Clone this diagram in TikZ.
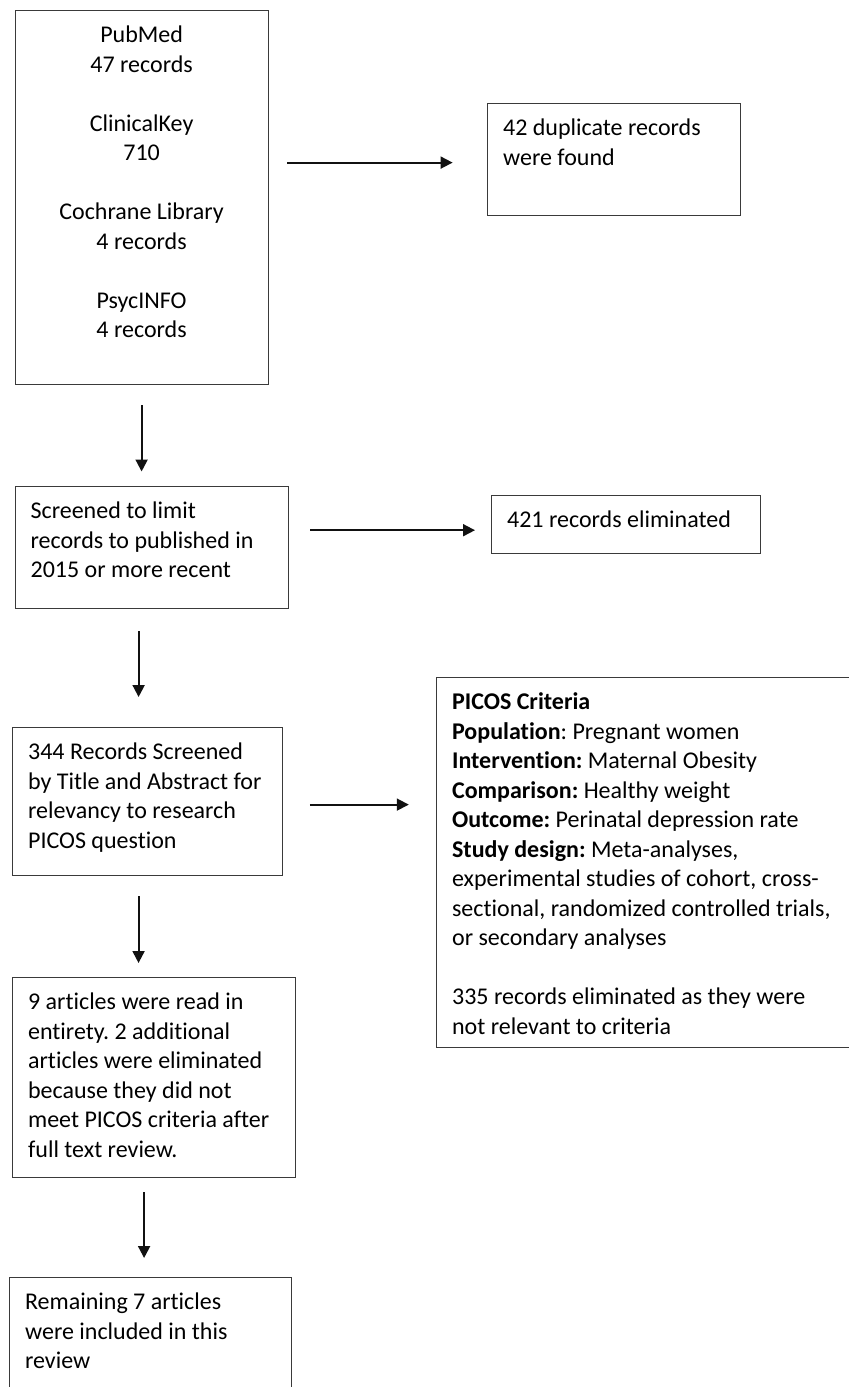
\documentclass[tikz,border=0pt]{standalone}
\usepackage{fontspec}
\setmainfont{Carlito}[Ligatures=NoCommon]
\usepackage{xcolor}
\definecolor{vienhop}{HTML}{3A3A3A}
\definecolor{muiden}{HTML}{111111}
\usetikzlibrary{arrows.meta,calc,positioning}
\frenchspacing
\newcommand{\hopchu}[4][\raggedright]{\parbox[t][#3][t]{#2}{#1\rule{0pt}{16pt}#4}}

\begin{document}
\begin{tikzpicture}[x=0.5pt,y=-0.5pt]
	\tikzset{
		hop/.style={draw=vienhop,line width=0.6pt,inner xsep=7.75pt,inner ysep=0pt,anchor=north west,font=\fontsize{12}{14.75}\selectfont},
		muiten/.style={draw=muiden,line width=1pt,-{Triangle[length=6pt,width=6pt]}},
		muitenngang/.style={muiten,line width=0.9pt}
	}
	\useasboundingbox (0,0) rectangle (849,1387);
	%% cot trai
	\node[hop] (nguon) at (14.5,10) {\hopchu[\centering]{111pt}{187pt}{PubMed\\47 records\\[14.75pt]ClinicalKey\\710\\[14.75pt]Cochrane Library\\4 records\\[14.75pt]PsycINFO\\4 records}};
	\node[hop] (loc) at (14.5,486) {\hopchu{121pt}{60.75pt}{Screened to limit\\records to published in\\2015 or more recent}};
	\node[hop] (tomtat) at (12,727) {\hopchu{119.25pt}{74pt}{344 Records Screened\\by Title and Abstract for\\relevancy to research\\PICOS question}};
	\node[hop] (doc) at (12,977) {\hopchu{126pt}{100pt}{9 articles were read in\\entirety. 2 additional\\articles were eliminated\\because they did not\\meet PICOS criteria after\\full text review.}};
	\node[hop] (ket) at (9,1277) {\hopchu{125.5pt}{59pt}{Remaining 7 articles\\were included in this\\review}};
	%% cot phai
	\node[hop] (trung) at (487,103) {\hopchu{111pt}{56pt}{42 duplicate records\\were found}};
	\node[hop] (loai) at (491,495) {\hopchu{119pt}{29pt}{421 records eliminated}};
	\node[hop] (picos) at (436,677) {\hopchu{192.5pt}{185pt}{\textbf{PICOS Criteria}\\\textbf{Population}: Pregnant women\\\textbf{Intervention:} Maternal Obesity\\\textbf{Comparison:} Healthy weight\\\textbf{Outcome:} Perinatal depression rate\\\textbf{Study design:} Meta-analyses,\\experimental studies of cohort, cross-\\sectional, randomized controlled trials,\\or secondary analyses\\[14.75pt]335 records eliminated as they were\\not relevant to criteria}};
	%% mui ten doc
	\foreach \a/\b/\dx/\s/\e in {nguon/loc/0/10/7.25, loc/tomtat/-6.5/11.25/15, tomtat/doc/-4.4/10/7, doc/ket/-5/7/9.5}{
		\draw[muiten,shorten <=\s pt,shorten >=\e pt] ([xshift=\dx pt]\a.south) -- ([xshift=\dx pt]\a.south |- \b.north);
	}
	%% mui ten ngang
	\draw[muitenngang,shorten <=9.25pt,shorten >=17.2pt] ([yshift=-1.5pt]nguon.east |- trung.west) -- ([yshift=-1.5pt]trung.west);
	\draw[muitenngang,shorten <=10.75pt,shorten >=8pt] ([yshift=-2.8pt]loc.east |- loai.west) -- ([yshift=-2.8pt]loai.west);
	\draw[muitenngang,shorten <=13.55pt,shorten >=13.6pt] ([yshift=-1.5pt]tomtat.east) -- ([yshift=-1.5pt]tomtat.east -| picos.west);
\end{tikzpicture}
\end{document}
